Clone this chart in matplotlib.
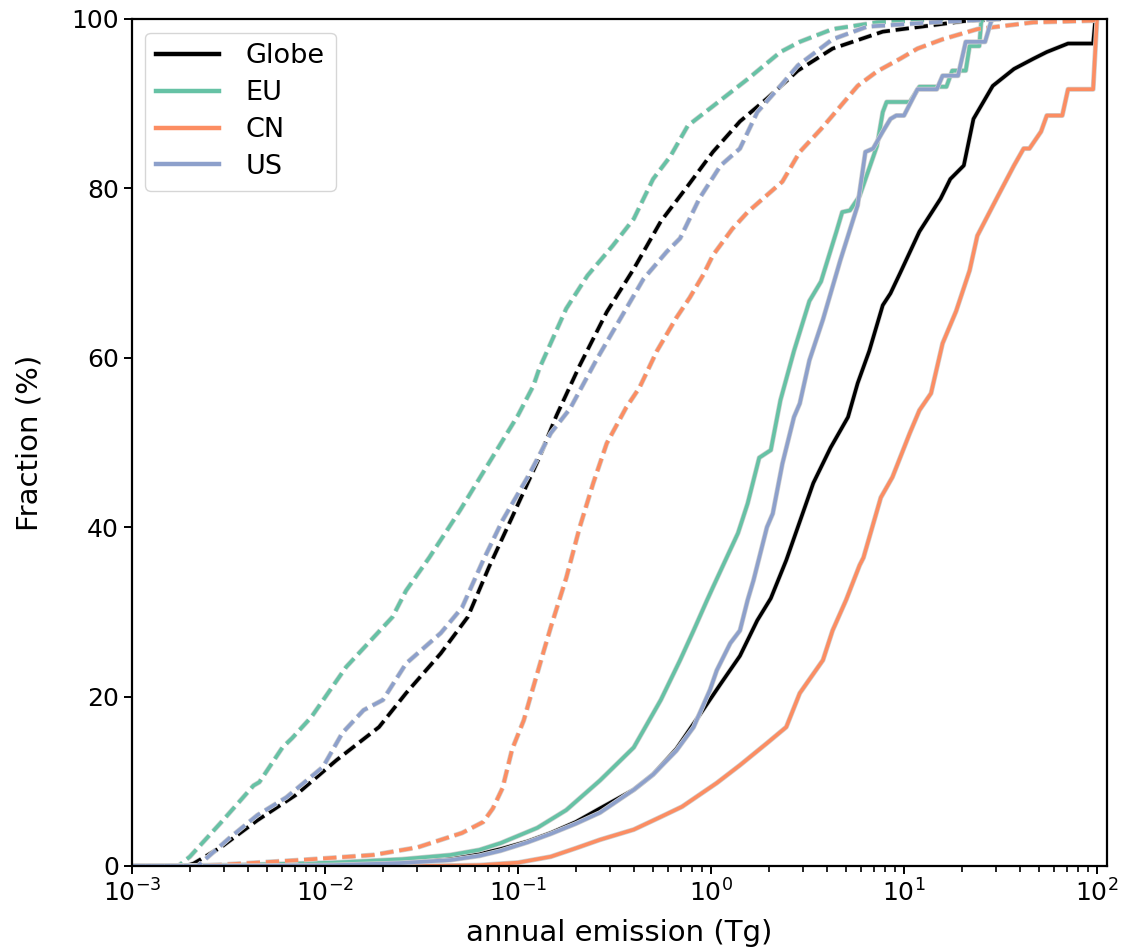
import numpy as np
import matplotlib
matplotlib.use('Agg')
import matplotlib.pyplot as plt
import matplotlib.patheffects as pe

# x values stored as log10(annual emission in Tg), y as cumulative fraction (%)
globe_lx = [-3, -2.3, -2.0, -1.61, -1.35, -1.2, -1.09, -0.95, -0.83, -0.7, -0.575, -0.40, -0.30,
            -0.18, -0.06, 0.05, 0.15, 0.24, 0.31, 0.39, 0.53, 0.62, 0.71, 0.76, 0.82, 0.89,
            0.93, 0.98, 1.08, 1.19, 1.24, 1.31, 1.36, 1.46, 1.57, 1.67, 1.74, 1.85, 1.98,
            1.99, 2.0]
globe_y = [0, 0.05, 0.15, 0.4, 0.9, 1.4, 2.0, 2.9, 3.9, 5.2, 6.8, 9.0, 10.8,
           13.8, 17.8, 21.5, 24.8, 29.0, 31.6, 36.1, 45.2, 49.4, 53.0, 57.0, 60.8, 66.2,
           67.6, 70.0, 74.9, 78.8, 81.1, 82.7, 88.2, 92.1, 94.1, 95.3, 96.1, 97.1, 97.1,
           99.6, 100]
globe_d_lx = [-3, -2.72, -2.68, -2.54, -2.35, -2.15, -1.94, -1.72, -1.58, -1.40, -1.26, -1.15,
              -1.03, -0.89, -0.80, -0.68, -0.54, -0.40, -0.26, -0.12, 0.01, 0.15, 0.29, 0.45,
              0.63, 0.89, 1.33, 1.5]
globe_d_y = [0, 0, 0.3, 2.2, 5.4, 8.4, 12.5, 16.4, 20.4, 25.1, 29.4, 35.3,
             41.2, 48.2, 53.2, 59.1, 65.4, 70.5, 76.1, 80.3, 84.3, 87.9, 90.6, 93.9,
             96.5, 98.5, 99.8, 100]

eu_lx = [-3, -2.5, -1.96, -1.6, -1.35, -1.2, -1.09, -0.90, -0.75, -0.575, -0.40, -0.26, -0.16,
         -0.09, -0.02, 0.01, 0.14, 0.19, 0.25, 0.31, 0.36, 0.43, 0.51, 0.57, 0.65, 0.68, 0.72,
         0.77, 0.86, 0.89, 0.91, 0.96, 1.03, 1.08, 1.22, 1.25, 1.32, 1.34, 1.39, 1.40, 1.41]
eu_y = [0, 0.1, 0.4, 0.8, 1.3, 1.9, 2.7, 4.5, 6.6, 10.1, 14.0, 19.6, 24.3,
        27.8, 31.4, 32.9, 39.3, 42.8, 48.2, 49.1, 55.0, 60.8, 66.7, 69.0, 74.9, 77.2, 77.4,
        79.1, 85.0, 89.0, 90.2, 90.2, 90.2, 92.0, 92.0, 93.9, 93.9, 96.8, 96.8, 99.6, 100]
eu_d_lx = [-3, -2.76, -2.70, -2.54, -2.37, -2.34, -2.22, -2.17, -2.07, -1.89, -1.65, -1.58,
           -1.46, -1.30, -1.00, -0.92, -0.89, -0.75, -0.64, -0.51, -0.40, -0.30, -0.21, -0.12,
           0.01, 0.19, 0.36, 0.46, 0.63, 0.86, 1.24]
eu_d_y = [0, 0, 1.1, 5.1, 9.5, 9.9, 14.0, 15.1, 17.6, 23.5, 29.4, 32.5,
          36.4, 42.0, 53.2, 56.7, 58.7, 65.8, 69.7, 73.2, 76.4, 81.1, 83.8, 87.4,
          89.7, 92.9, 96.1, 97.3, 98.8, 99.6, 100]

cn_lx = [-3, -1.5, -1.2, -1.0, -0.83, -0.7, -0.575, -0.40, -0.26, -0.15, 0.03, 0.15, 0.29,
         0.39, 0.46, 0.58, 0.63, 0.70, 0.77, 0.79, 0.88, 0.94, 1.03, 1.08, 1.14, 1.20, 1.27,
         1.34, 1.38, 1.48, 1.57, 1.62, 1.65, 1.71, 1.74, 1.82, 1.85, 1.98, 2.0]
cn_y = [0, 0, 0.1, 0.4, 1.1, 2.1, 3.1, 4.3, 5.8, 7.0, 9.8, 11.9, 14.5,
        16.4, 20.4, 24.3, 27.8, 31.4, 35.5, 36.4, 43.5, 45.9, 51.1, 53.8, 55.8, 61.7, 65.5,
        70.3, 74.4, 78.8, 82.7, 84.7, 84.7, 86.7, 88.6, 88.6, 91.7, 91.7, 100]
cn_d_lx = [-3, -2.65, -2.39, -2.13, -1.75, -1.52, -1.29, -1.18, -1.13, -1.08, -1.03, -0.97,
           -0.94, -0.87, -0.83, -0.75, -0.68, -0.61, -0.54, -0.44, -0.37, -0.28, -0.18, -0.11,
           -0.04, 0.01, 0.11, 0.19, 0.31, 0.37, 0.46, 0.57, 0.63, 0.76, 0.86, 0.98, 1.07, 1.20,
           1.38, 1.67, 1.98, 2.0]
cn_d_y = [0, 0, 0.35, 0.7, 1.3, 2.2, 3.9, 5.2, 6.8, 9.2, 13.8, 17.2,
          19.6, 25.1, 28.2, 34.0, 40.0, 45.2, 49.9, 54.1, 56.5, 60.8, 64.7, 67.1,
          69.8, 72.1, 75.2, 77.2, 79.6, 80.8, 84.3, 87.0, 88.6, 92.1, 93.8, 95.3, 96.5, 97.6,
          98.8, 99.6, 99.8, 100]

us_lx = [-3, -2.3, -1.96, -1.61, -1.35, -1.2, -1.09, -0.95, -0.83, -0.7, -0.575, -0.40, -0.30,
         -0.18, -0.09, -0.005, 0.03, 0.10, 0.15, 0.19, 0.22, 0.29, 0.32, 0.37, 0.43, 0.46,
         0.51, 0.58, 0.67, 0.76, 0.80, 0.84, 0.89, 0.93, 0.96, 1.0, 1.07, 1.17, 1.20, 1.28,
         1.32, 1.42, 1.45, 1.46]
us_y = [0, 0.03, 0.1, 0.35, 0.7, 1.2, 1.8, 2.8, 3.8, 5.0, 6.3, 9.0, 10.8,
        13.6, 16.4, 20.8, 23.1, 26.3, 27.8, 31.4, 33.7, 40.0, 41.6, 47.5, 53.0, 54.6,
        59.7, 64.5, 71.5, 78.0, 84.3, 84.7, 86.7, 88.2, 88.6, 88.6, 91.7, 91.7, 93.3, 93.3,
        97.3, 97.3, 99.6, 100]
us_d_lx = [-3, -2.66, -2.49, -2.35, -2.20, -2.01, -1.91, -1.80, -1.70, -1.58, -1.40, -1.29,
           -1.18, -1.08, -0.94, -0.83, -0.73, -0.59, -0.47, -0.35, -0.23, -0.16, -0.06, 0.05,
           0.15, 0.24, 0.36, 0.45, 0.63, 0.81, 1.15, 1.5]
us_d_y = [0, 0, 3.4, 6.0, 8.1, 11.7, 15.7, 18.4, 19.6, 23.9, 27.5, 30.5,
          36.1, 40.8, 46.3, 51.1, 54.0, 59.9, 64.6, 69.3, 72.5, 74.1, 78.8, 82.7,
          84.7, 89.0, 92.1, 94.5, 97.6, 99.1, 99.6, 100]

regions = ['Globe', 'EU', 'CN', 'US']
colors = ['black', '#66c2a5', '#fc8d62', '#8da0cb']
solid = [(globe_lx, globe_y), (eu_lx, eu_y), (cn_lx, cn_y), (us_lx, us_y)]
dashed = [(globe_d_lx, globe_d_y), (eu_d_lx, eu_d_y), (cn_d_lx, cn_d_y), (us_d_lx, us_d_y)]

lw = 2.6
edge = [pe.Stroke(linewidth=lw + 1.0, foreground='#d0d0d0'), pe.Normal()]

fig = plt.figure(figsize=(11.24, 9.48), dpi=100)
ax = fig.add_axes([0.1174, 0.0865, 0.8675, 0.8935])

for name, c, (sx, sy), (dx, dy) in zip(regions, colors, solid, dashed):
    ax.plot(10 ** np.array(sx), sy, color=c, lw=lw, label=name, path_effects=edge)
    ax.plot(10 ** np.array(dx), dy, color=c, lw=lw, ls='--', path_effects=edge)

ax.set_xscale('log')
ax.set_xlim(1e-3, 10 ** 2.052)
ax.set_ylim(0, 100)
ax.set_yticks([0, 20, 40, 60, 80, 100])

ax.set_xlabel('annual emission (Tg)', fontsize=21, labelpad=9)
ax.set_ylabel('Fraction (%)', fontsize=21, labelpad=20)
ax.tick_params(axis='both', which='major', labelsize=18, length=6, width=1.4)
ax.tick_params(axis='x', which='minor', length=4, width=1.2)
for s in ax.spines.values():
    s.set_linewidth(1.6)

leg = ax.legend(loc='upper left', fontsize=19.5, handlelength=2.3, handletextpad=1.0,
                labelspacing=0.4)
for line in leg.get_lines():
    line.set_linewidth(3.2)
    line.set_path_effects([])

fig.savefig('out.png', dpi=100)
